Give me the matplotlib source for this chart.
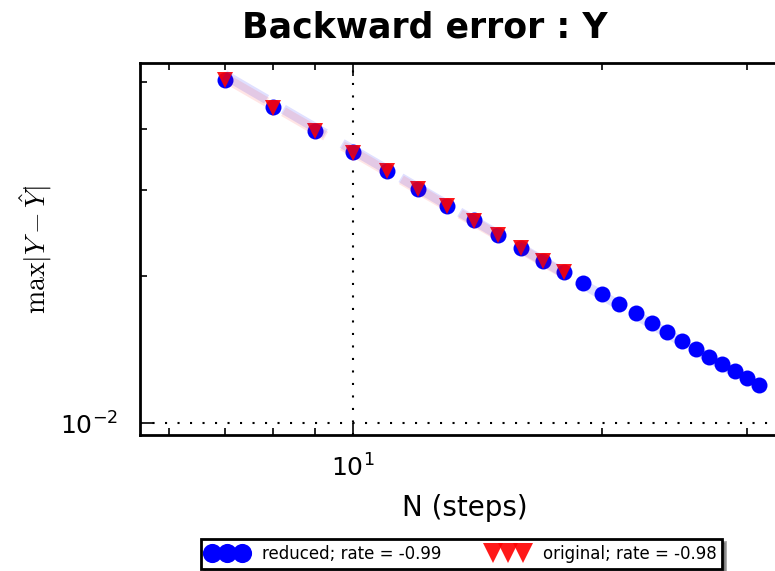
import numpy as np
import matplotlib
matplotlib.use('Agg')
from matplotlib import pyplot as plt
from matplotlib.ticker import NullFormatter, LogLocator

# steps and max backward error for the reduced and original models
n_reduced = [7, 8, 9, 10, 11, 12, 13, 14, 15, 16, 17, 18, 19, 20, 21, 22, 23,
             24, 25, 26, 27, 28, 29, 30, 31]
err_reduced = [0.0505, 0.0444, 0.0397, 0.0359, 0.0328, 0.0302, 0.0279, 0.0261,
               0.0243, 0.02284, 0.02148, 0.02039, 0.01936, 0.01838, 0.01754,
               0.0168, 0.01603, 0.01536, 0.01472, 0.01418, 0.01365, 0.01321,
               0.01278, 0.01236, 0.01196]
n_original = [7, 8, 9, 10, 11, 12, 13, 14, 15, 16, 17, 18]
err_original = [0.0504, 0.0443, 0.0396, 0.0358, 0.0328, 0.0302, 0.0279, 0.0260,
                0.0243, 0.0228, 0.0215, 0.0204]
rate_reduced = -0.99
rate_original = -0.98


def fit_line(n, err, rate):
    # power law with the given rate, passing through the log-mean of the data
    n = np.asarray(n, float)
    c = np.mean(np.log(err) - rate * np.log(n))
    return n, np.exp(c) * n ** rate


fig = plt.figure(figsize=(7.75, 5.71), dpi=100)
fig.patch.set_facecolor('white')
ax = fig.add_axes([140 / 775, 1 - 435 / 571, 650 / 775, 372 / 571])

ax.plot(n_reduced, err_reduced, 'o', color='blue', markersize=11.5, markeredgewidth=0,
        label='reduced; rate = %.2f' % rate_reduced, zorder=3)
ax.plot(n_original, err_original, 'v', color='red', markersize=12, markeredgewidth=0,
        alpha=0.9, label='original; rate = %.2f' % rate_original, zorder=4)

fx, fy = fit_line(n_reduced, err_reduced, rate_reduced)
ax.plot(fx, fy, color='blue', lw=7, alpha=0.12, ls=(0, (5, 2)), zorder=5)
fx, fy = fit_line(n_original, err_original, rate_original)
ax.plot(fx, fy, color='red', lw=7, alpha=0.1, ls=(0, (5, 2)), zorder=5)

ax.set_xscale('log')
ax.set_yscale('log')
ax.set_xlim(5.53, 33.8)
ax.set_ylim(0.00945, 0.0547)
ax.xaxis.set_minor_formatter(NullFormatter())
ax.yaxis.set_minor_formatter(NullFormatter())
ax.yaxis.set_minor_locator(LogLocator(subs=np.arange(2, 10)))

ax.grid(True, which='major', color='black', linestyle=(0, (1, 5)), linewidth=1.5)
ax.tick_params(which='both', direction='in', top=True, right=True, width=1.2)
ax.tick_params(which='major', length=9, labelsize=18)
ax.tick_params(axis='x', which='major', pad=14)
ax.tick_params(axis='y', which='major', pad=16)
ax.tick_params(which='minor', length=5)
for sp in ax.spines.values():
    sp.set_linewidth(2)

ax.set_xlabel('N (steps)', fontsize=20, labelpad=9)
ax.set_ylabel(r'$\max|Y - \hat{Y}|$', fontsize=20, math_fontfamily='cm', labelpad=4)

fig.text(425 / 775, 1 - 28 / 571, 'Backward error : Y', fontsize=25, fontweight='bold',
         ha='center', va='center')

leg = ax.legend(loc='center', bbox_to_anchor=(461.5 / 775, 1 - 554 / 571),
                bbox_transform=fig.transFigure, ncol=2, numpoints=3, fontsize=12,
                shadow=True, fancybox=False, framealpha=1, edgecolor='black',
                borderpad=0.35, handletextpad=0.9, columnspacing=2.8,
                handlelength=2.4, markerscale=1.2)
leg.get_frame().set_linewidth(2)

fig.savefig('out.png', dpi=100)
